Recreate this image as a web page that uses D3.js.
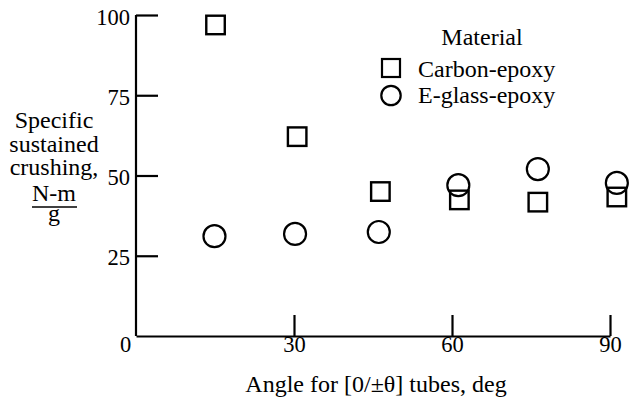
<!DOCTYPE html>
<html>
<head>
<meta charset="utf-8">
<script src="https://cdn.jsdelivr.net/npm/d3@7"></script>
<style>
  html, body { margin: 0; padding: 0; background: #fff; }
  svg { display: block; }
  text { font-family: "Liberation Serif", "Times New Roman", serif; fill: #000; }
</style>
</head>
<body>
<svg id="chart" width="631" height="404"></svg>
<script>
// ---- data ----
const carbonAngle  = [15.1, 30.6, 46.4, 61.4, 76.3, 91.3];
const carbonValue  = [96.9, 62.1, 45.0, 42.4, 41.7, 43.3];
const glassAngle   = [14.9, 30.2, 46.1, 61.2, 76.3, 91.3];
const glassValue   = [31.1, 31.8, 32.4, 47.0, 52.0, 47.7];
const xTicks = [0, 30, 60, 90];
const yTicks = [25, 50, 75, 100];
const seriesNames = ["Carbon-epoxy", "E-glass-epoxy"];
const legendTitle = "Material";
const xTitle = "Angle for [0/\u00B1\u03B8] tubes, deg";
const yTitleLines = ["Specific", "sustained", "crushing,"];
const yUnitNum = "N-m";
const yUnitDen = "g";

const svg = d3.select("#chart");
const FS = 24;     // titles and legend
const TFS = 22.5;  // tick labels

const x = d3.scaleLinear().domain([0, 90]).range([136, 610]);
const y = d3.scaleLinear().domain([0, 100]).range([336, 15]);

// Y axis
const gy = svg.append("g").attr("transform", "translate(136,0)")
  .call(d3.axisLeft(y).tickValues(yTicks).tickSizeInner(-22).tickSizeOuter(0).tickPadding(6).tickFormat(d3.format("d")));
gy.select(".domain").attr("d", `M0,${y(0)}V${y(100)}`);

// X axis
const gx = svg.append("g").attr("transform", `translate(0,${y(0)})`)
  .call(d3.axisBottom(x).tickValues(xTicks).tickSizeInner(-21).tickSizeOuter(0).tickPadding(1).tickFormat(d3.format("d")));

[gx, gy].forEach(g => {
  g.select(".domain").attr("stroke", "#000").attr("stroke-width", 2.2);
  g.selectAll(".tick line").attr("stroke", "#000").attr("stroke-width", 2.2);
  g.selectAll(".tick text").attr("font-family", "Liberation Serif").attr("font-size", TFS).attr("fill", "#000");
});
gy.selectAll(".tick text").attr("dy", "0.4em");
gx.selectAll(".tick text").attr("dy", "0").attr("y", 16);
gx.selectAll(".tick").filter(d => d === 0).select("line").remove();
gx.selectAll(".tick").filter(d => d === 0).select("text").attr("dx", -11);

// Axis titles
svg.append("text").attr("x", 376).attr("y", 392).attr("text-anchor", "middle")
  .attr("font-size", FS).text(xTitle);

const yt = svg.append("g").attr("text-anchor", "middle");
const yBase = [128, 152, 175];
yTitleLines.forEach((t, i) => yt.append("text").attr("x", 54).attr("y", yBase[i]).attr("font-size", FS).text(t));
yt.append("text").attr("x", 54).attr("y", 201).attr("font-size", FS).text(yUnitNum);
yt.append("line").attr("x1", 32).attr("x2", 77).attr("y1", 207).attr("y2", 207).attr("stroke", "#000").attr("stroke-width", 1.5);
yt.append("text").attr("x", 54).attr("y", 221).attr("font-size", FS).text(yUnitDen);

// Marks
const sq = 18.5;
const carbon = carbonAngle.map((a, i) => ({a, v: carbonValue[i]}));
const glass = glassAngle.map((a, i) => ({a, v: glassValue[i]}));

svg.append("g").selectAll("rect").data(carbon).join("rect")
  .attr("x", d => x(d.a) - sq / 2).attr("y", d => y(d.v) - sq / 2)
  .attr("width", sq).attr("height", sq)
  .attr("fill", "none").attr("stroke", "#000").attr("stroke-width", 2.4);

svg.append("g").selectAll("circle").data(glass).join("circle")
  .attr("cx", d => x(d.a)).attr("cy", d => y(d.v)).attr("r", 11)
  .attr("fill", "none").attr("stroke", "#000").attr("stroke-width", 2.2);

// Legend
const lg = svg.append("g");
lg.append("text").attr("x", 482).attr("y", 45).attr("text-anchor", "middle").attr("font-size", FS).text(legendTitle);
lg.append("rect").attr("x", 391 - 9).attr("y", 68 - 9).attr("width", 18).attr("height", 18)
  .attr("fill", "none").attr("stroke", "#000").attr("stroke-width", 2.2);
lg.append("text").attr("x", 418).attr("y", 77).attr("font-size", FS).text(seriesNames[0]);
lg.append("circle").attr("cx", 391).attr("cy", 95.5).attr("r", 9.7)
  .attr("fill", "none").attr("stroke", "#000").attr("stroke-width", 2.2);
lg.append("text").attr("x", 418).attr("y", 103).attr("font-size", FS).text(seriesNames[1]);
</script>
</body>
</html>
